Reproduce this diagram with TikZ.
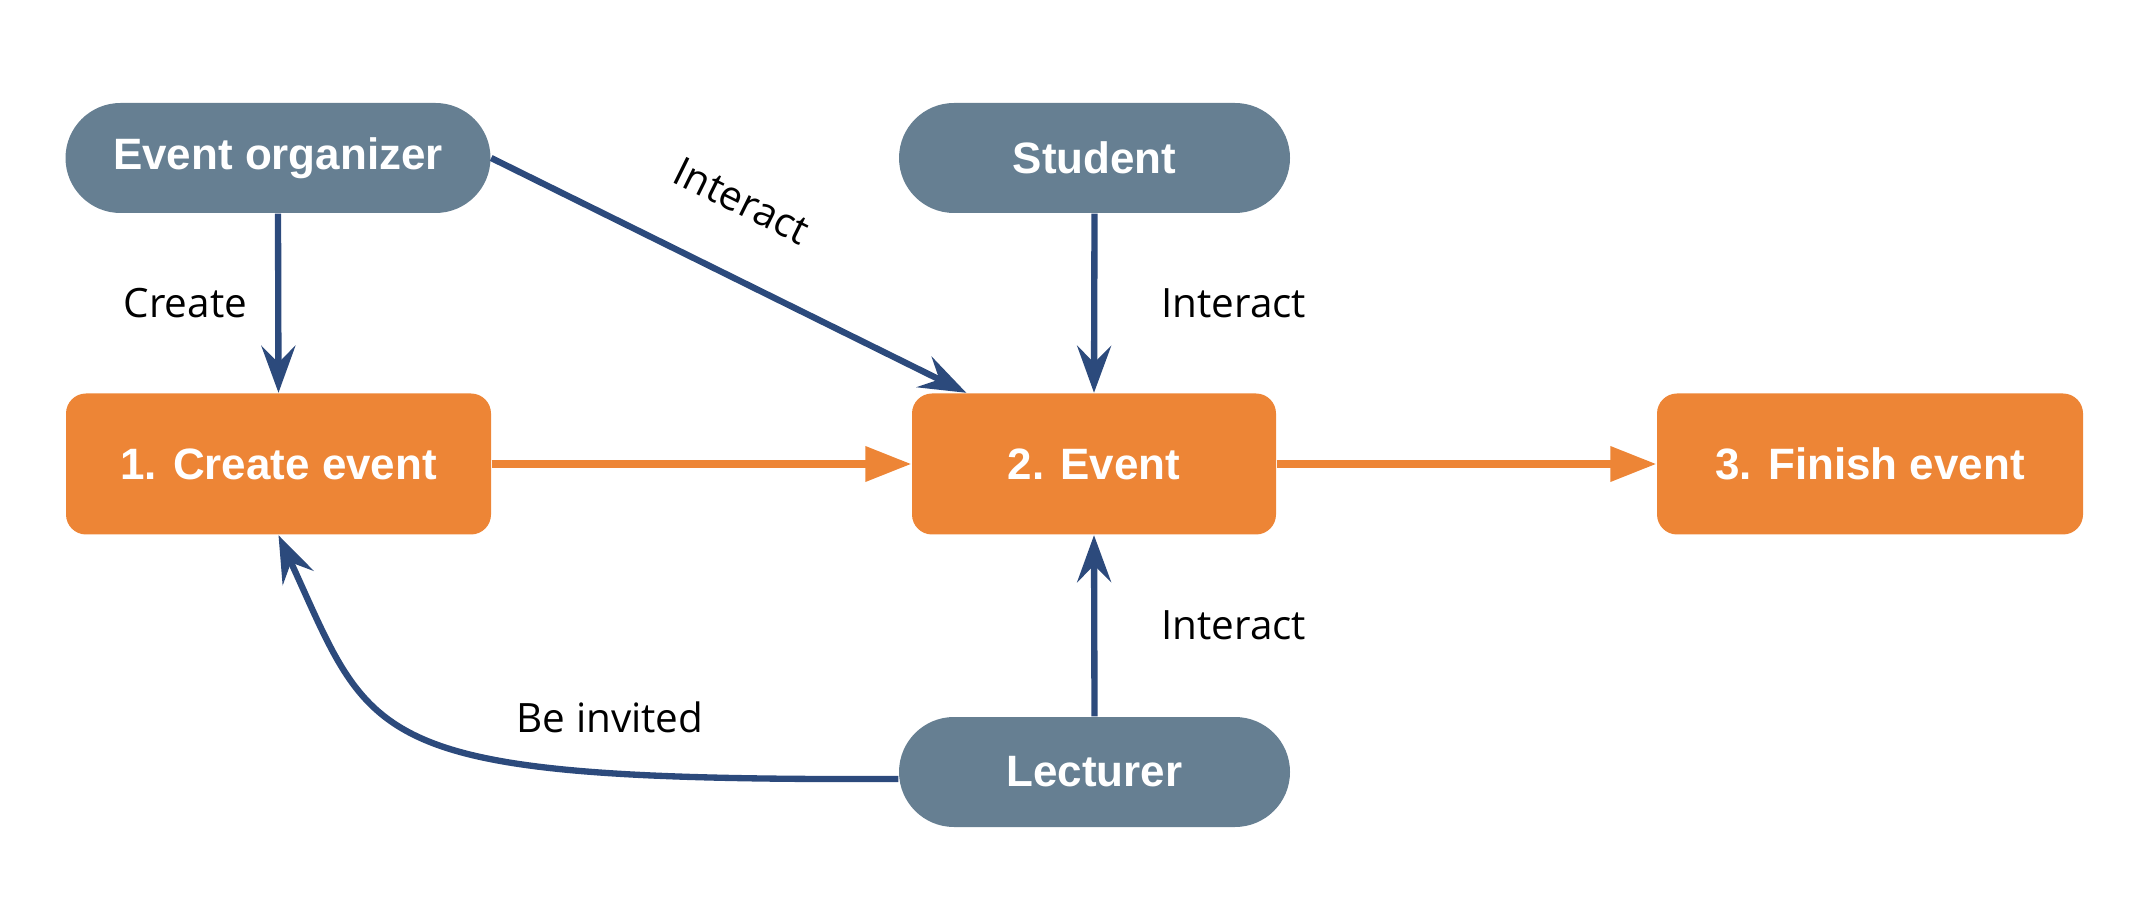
\documentclass[tikz,border=0pt]{standalone}
\usepackage{fontspec}
\setmainfont{Liberation Sans}
\newfontfamily\labelfont{Open Sans}
\usepackage{tikz}
\usetikzlibrary{positioning, arrows.meta}
\usepackage{xcolor}
\definecolor{actorgray}{HTML}{667F92}
\definecolor{stageorange}{HTML}{ED8536}
\definecolor{linkblue}{HTML}{2C4A7C}

\begin{document}
\begin{tikzpicture}[
    actor/.style={fill=actorgray, text=white, font=\fontsize{12.5}{14}\selectfont\bfseries,
        minimum height=1.10cm, rounded corners=0.55cm, inner sep=0pt},
    stage/.style={fill=stageorange, text=white, font=\fontsize{12.5}{14}\selectfont\bfseries,
        minimum height=1.41cm, rounded corners=0.2cm, inner sep=0pt},
    link/.style={draw=linkblue, line width=1.8pt, -{Stealth[length=0.47cm, width=0.34cm, inset=0.17cm]}},
    flow/.style={draw=stageorange, line width=2pt, -{Triangle[length=0.46cm, width=0.34cm]}},
    linklabel/.style={font=\labelfont\fontsize{11.5}{13}\selectfont, text=black, inner sep=0pt}
]
    \useasboundingbox (0,0) rectangle (21.51,9.15);

    % Actors
    \node[actor, minimum width=4.25cm] (organizer) at (2.78, 7.57) {Event organizer};
    \node[actor, minimum width=3.91cm] (student) at (10.945, 7.57) {Student};
    \node[actor, minimum width=3.91cm] (lecturer) at (10.945, 1.43) {Lecturer};

    % Event stages
    \node[stage, minimum width=4.25cm] (create) at (2.785, 4.51) {1. Create event};
    \node[stage, minimum width=3.64cm] (event) at (10.94, 4.51) {2. Event};
    \node[stage, minimum width=4.26cm] (finish) at (18.70, 4.51) {3. Finish event};

    % Stage flow
    \draw[flow] (create.east) -- (event.west);
    \draw[flow] (event.east) -- (finish.west);

    % Interactions
    \draw[link] (organizer.south) -- (create.north)
        node[linklabel, midway, left=0.28cm] {Create};
    \draw[link] (organizer.east) -- ([xshift=0.55cm]event.north west)
        node[linklabel, pos=0.46, sloped, above=0.55cm] {Interact};
    \draw[link] (student.south) -- (event.north)
        node[linklabel, midway, right=0.64cm] {Interact};
    \draw[link] (lecturer.north) -- (event.south)
        node[linklabel, midway, right=0.64cm] {Interact};
    \draw[link] ([yshift=-0.07cm]lecturer.west) .. controls (3.6,1.34) and (3.75,1.7) .. (create.south);
    \node[linklabel] (invited) at (6.10, 1.98) {Be invited};

\end{tikzpicture}
\end{document}
